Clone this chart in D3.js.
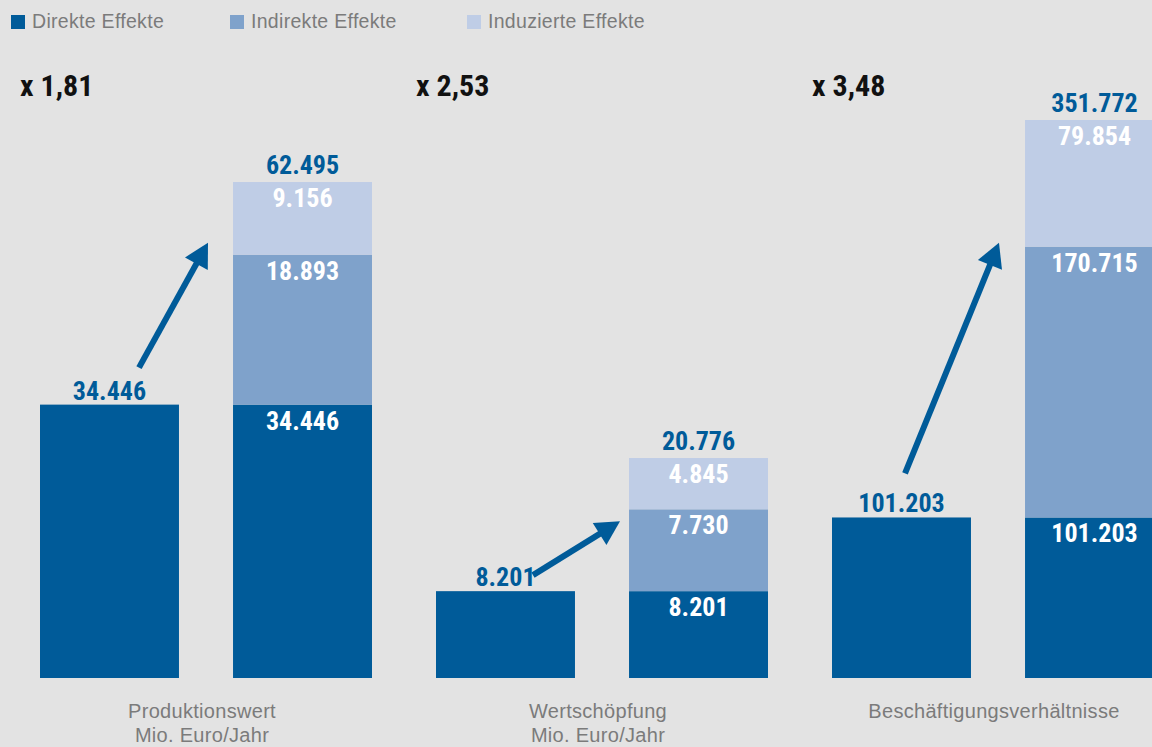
<!DOCTYPE html>
<html>
<head>
<meta charset="utf-8">
<script src="https://cdn.jsdelivr.net/npm/d3@7"></script>
<style>
  html, body { margin: 0; padding: 0; background: #e3e3e3; overflow: hidden; }
  svg { display: block; }
</style>
</head>
<body>
<svg id="chart" width="1152" height="747"></svg>
<script>
// ---- data ----
const groups = ["Produktionswert", "Wertschöpfung", "Beschäftigungsverhältnisse"];
const groupUnits = ["Mio. Euro/Jahr", "Mio. Euro/Jahr", ""];
const seriesNames = ["Direkte Effekte", "Indirekte Effekte", "Induzierte Effekte"];
const direct = [34446, 8201, 101203];
const indirect = [18893, 7730, 170715];
const induced = [9156, 4845, 79854];
const totals = [62495, 20776, 351772];
const multipliers = ["x 1,81", "x 2,53", "x 3,48"];
// each panel has its own value axis maximum (top of plotting area)
const axisMax = [70310, 52700, 351772];
const barKinds = ["vorher", "nachher"];

// ---- layout / style ----
const W = 1152, H = 747;
const baseY = 678, topY = 120;
const colors = ["#005b99", "#7fa2cb", "#bfcde6"];
const blue = "#005b99";
const gray = "#7b7b7b";
const condensed = "'Liberation Sans Narrow', 'Arial Narrow', 'Roboto Condensed', sans-serif";
const sans = "'Liberation Sans', Arial, Helvetica, sans-serif";

const svg = d3.select("#chart");
svg.append("rect").attr("width", W).attr("height", H).attr("fill", "#e3e3e3");

const fmt = d3.formatLocale({decimal: ",", thousands: ".", grouping: [3], currency: ["", " €"]}).format(",d");

const xGroup = d3.scaleBand().domain(groups).range([40, 40 + 396 * 3]).paddingInner(0).paddingOuter(0);
const xBar = d3.scaleBand().domain(barKinds).range([0, 332]).paddingInner(0.28).paddingOuter(0);
const yScales = groups.map((g, i) => d3.scaleLinear().domain([0, axisMax[i]]).range([baseY, topY]));

// ---- legend ----
const legendX = [11, 230, 467];
const legend = svg.append("g");
seriesNames.forEach((name, i) => {
  legend.append("rect").attr("x", legendX[i]).attr("y", 15).attr("width", 14).attr("height", 14).attr("fill", colors[i]);
  legend.append("text").attr("x", legendX[i] + 21).attr("y", 28)
    .attr("font-family", sans).attr("font-size", 19.5).attr("letter-spacing", 0.3)
    .attr("fill", gray).text(name);
});

// arrow annotations (pixel offsets relative to the bars)
const arrows = [
  {x1: 99, y1: -37, x2: 168, y2: -12},
  {x1: 97, y1: -16, x2: 184, y2: 12},
  {x1: 73, y1: -44, x2: 167, y2: -4}
];

groups.forEach((g, i) => {
  const gx = xGroup(g);
  const y = yScales[i];
  const bw = xBar.bandwidth();
  const gEl = svg.append("g");

  // multiplier
  gEl.append("text").attr("x", gx - 20).attr("y", 96)
    .attr("font-family", condensed).attr("font-weight", "bold").attr("font-size", 30)
    .attr("fill", "#111").text(multipliers[i]);

  // before bar (direct only)
  const b1 = gx + xBar("vorher");
  gEl.append("rect").attr("x", b1).attr("y", y(direct[i])).attr("width", bw)
    .attr("height", baseY - y(direct[i])).attr("fill", colors[0]);
  gEl.append("text").attr("x", b1 + bw / 2).attr("y", y(direct[i]) - 5)
    .attr("text-anchor", "middle").attr("font-family", condensed).attr("font-weight", "bold")
    .attr("font-size", 26).attr("fill", blue).text(fmt(direct[i]));

  // stacked bar
  const b2 = gx + xBar("nachher");
  const vals = [direct[i], indirect[i], induced[i]];
  let acc = 0;
  vals.forEach((v, k) => {
    const y0 = y(acc), y1 = y(acc + v);
    gEl.append("rect").attr("x", b2).attr("y", y1).attr("width", bw)
      .attr("height", y0 - y1).attr("fill", colors[k]);
    gEl.append("text").attr("x", b2 + bw / 2).attr("y", y1 + 25)
      .attr("text-anchor", "middle").attr("font-family", condensed).attr("font-weight", "bold")
      .attr("font-size", 26).attr("fill", "#fff").text(fmt(v));
    acc += v;
  });
  gEl.append("text").attr("x", b2 + bw / 2).attr("y", y(totals[i]) - 8)
    .attr("text-anchor", "middle").attr("font-family", condensed).attr("font-weight", "bold")
    .attr("font-size", 26).attr("fill", blue).text(fmt(totals[i]));

  // arrow
  const a = arrows[i];
  const sx = gx + a.x1, sy = y(direct[i]) + a.y1;
  const tx = gx + a.x2, ty = y(direct[i] + indirect[i]) + a.y2;
  const ang = Math.atan2(ty - sy, tx - sx);
  const headL = 24, headW = 13;
  const bx = tx - headL * Math.cos(ang), by = ty - headL * Math.sin(ang);
  gEl.append("line").attr("x1", sx).attr("y1", sy).attr("x2", bx + 2 * Math.cos(ang)).attr("y2", by + 2 * Math.sin(ang))
    .attr("stroke", blue).attr("stroke-width", 6);
  const px = -Math.sin(ang), py = Math.cos(ang);
  gEl.append("path")
    .attr("d", `M${tx},${ty}L${bx + headW * px},${by + headW * py}L${bx - headW * px},${by - headW * py}Z`)
    .attr("fill", blue);

  // category label
  const lab = gEl.append("text").attr("x", gx + 162).attr("y", 718)
    .attr("text-anchor", "middle").attr("font-family", sans).attr("font-size", 20)
    .attr("letter-spacing", 0.3).attr("fill", gray);
  lab.append("tspan").attr("x", gx + 162).text(g);
  if (groupUnits[i]) lab.append("tspan").attr("x", gx + 162).attr("dy", 24).text(groupUnits[i]);
});
</script>
</body>
</html>
